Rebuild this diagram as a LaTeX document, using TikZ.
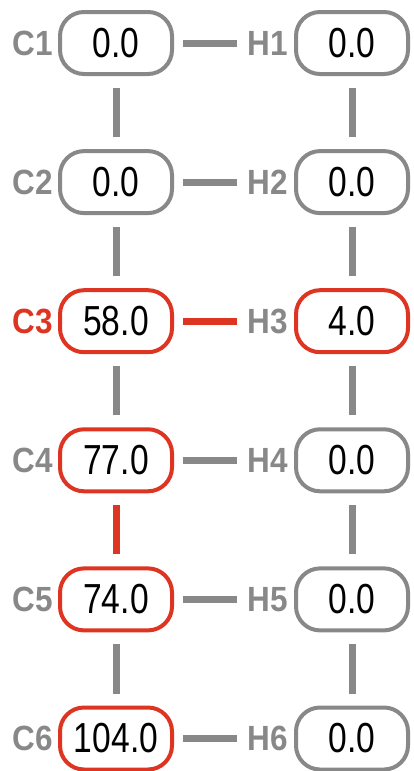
\documentclass[tikz,border=0pt]{standalone}
\usepackage{fontspec}
\setmainfont{Liberation Sans}
\newfontfamily\valfont[FakeStretch=0.8]{Liberation Sans}
\newfontfamily\labfont[FakeStretch=0.9]{Liberation Sans}
\definecolor{gr}{RGB}{136,136,136}
\definecolor{rd}{RGB}{222,52,34}
\tikzset{
  box/.style={draw=gr, line width=4pt, rounded corners=24pt, minimum width=112pt,
    minimum height=62pt, inner sep=0pt, font=\valfont\fontsize{42pt}{42pt}\selectfont, text=black},
  redbox/.style={box, draw=rd},
  lab/.style={anchor=east, inner sep=0pt, text=gr, font=\labfont\bfseries\fontsize{35pt}{35pt}\selectfont},
  redlab/.style={lab, text=rd},
  con/.style={draw=gr, line width=7pt, line cap=butt},
  redcon/.style={con, draw=rd},
  vcon/.style={shorten <=12pt, shorten >=12pt},
  hcon/.style={shorten <=9pt, shorten >=10pt}
}
\begin{document}
\begin{tikzpicture}[x=1pt,y=-1pt]
\useasboundingbox (0,0) rectangle (413,771);
\def\ra{43}\def\rb{182.1}\def\rc{321.2}\def\rd{460.3}\def\re{599.4}\def\rf{738.5}
\node[box]    (c1) at (116,\ra) {0.0};
\node[box]    (c2) at (116,\rb) {0.0};
\node[redbox] (c3) at (116,\rc) {58.0};
\node[redbox] (c4) at (116,\rd) {77.0};
\node[redbox] (c5) at (116,\re) {74.0};
\node[redbox] (c6) at (116,\rf) {104.0};
\node[box]    (h1) at (352,\ra) {0.0};
\node[box]    (h2) at (352,\rb) {0.0};
\node[redbox] (h3) at (352,\rc) {4.0};
\node[box]    (h4) at (352,\rd) {0.0};
\node[box]    (h5) at (352,\re) {0.0};
\node[box]    (h6) at (352,\rf) {0.0};
\foreach \i in {1,2,4,5,6} {
  \node[lab] (lc\i) at ([xshift=-5pt]c\i.west) {C\i};
}
\node[redlab] (lc3) at ([xshift=-5pt]c3.west) {C3};
\foreach \i in {1,...,6} {
  \node[lab] (lh\i) at ([xshift=-6pt]h\i.west) {H\i};
}
\foreach \i in {1,2,4,5,6} { \draw[con,hcon] (c\i) -- (lh\i); }
\draw[redcon,hcon] (c3) -- (lh3);
\draw[con,vcon] (c1) -- (c2);
\draw[con,vcon] (c2) -- (c3);
\draw[con,vcon] (c3) -- (c4);
\draw[redcon,vcon] (c4) -- (c5);
\draw[con,vcon] (c5) -- (c6);
\draw[con,vcon] (h1) -- (h2);
\draw[con,vcon] (h2) -- (h3);
\draw[con,vcon] (h3) -- (h4);
\draw[con,vcon] (h4) -- (h5);
\draw[con,vcon] (h5) -- (h6);
\end{tikzpicture}
\end{document}
